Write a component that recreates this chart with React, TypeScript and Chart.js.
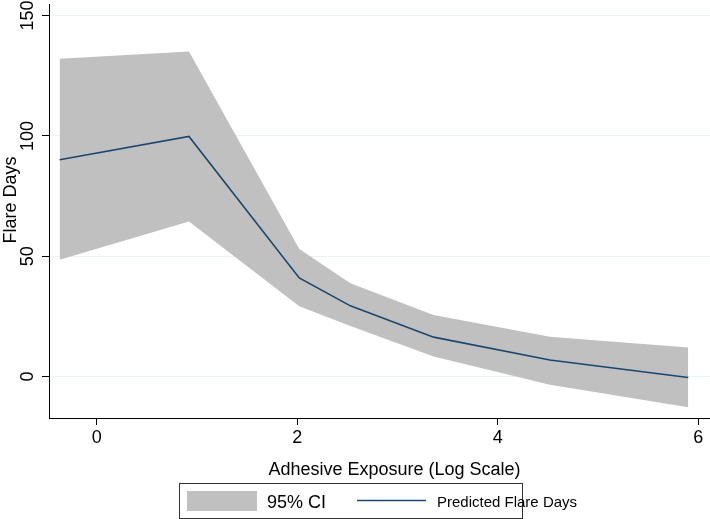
import React, { useEffect, useRef } from "react";
import { Chart, registerables } from "chart.js";

Chart.register(...registerables);

const xValues = [-0.37, 0.92, 2.02, 2.53, 3.36, 4.52, 5.9];
const predicted = [90.1, 99.8, 41.0, 29.4, 16.4, 6.9, -0.4];
const ciUpper = [132.1, 135.1, 53.0, 38.8, 25.6, 16.6, 12.1];
const ciLower = [48.5, 64.4, 29.2, 21.0, 8.3, -3.4, -12.7];

const xTicks = [0, 2, 4, 6];
const yTicks = [0, 50, 100, 150];

const xTitle = "Adhesive Exposure (Log Scale)";
const yTitle = "Flare Days";
const legendCI = "95% CI";
const legendLine = "Predicted Flare Days";

const FONT = "'Liberation Sans', Arial, Helvetica, sans-serif";
const BAND = "#c0c0c0";
const NAVY = "#1a476f";
const GRID = "#eaf2f3";

const textPlugin = {
  id: "stataText",
  afterDraw(chart: any) {
    const ctx = chart.ctx as CanvasRenderingContext2D;
    const xs = chart.scales.x;
    const ys = chart.scales.y;
    ctx.save();
    ctx.fillStyle = "#000";
    // y tick labels, rotated
    ctx.font = `18px ${FONT}`;
    yTicks.forEach((v) => {
      const py = ys.getPixelForValue(v);
      ctx.save();
      ctx.translate(33, py);
      ctx.rotate(-Math.PI / 2);
      ctx.textAlign = "center";
      ctx.textBaseline = "alphabetic";
      ctx.fillText(String(v), 0, 0);
      ctx.restore();
    });
    // x tick labels
    xTicks.forEach((v) => {
      const px = xs.getPixelForValue(v);
      ctx.textAlign = "center";
      ctx.textBaseline = "alphabetic";
      ctx.fillText(String(v), px, 443);
    });
    // axis titles
    ctx.font = `18px ${FONT}`;
    ctx.textAlign = "center";
    ctx.fillText(xTitle, 394.5, 475);
    ctx.save();
    ctx.translate(16, 200);
    ctx.rotate(-Math.PI / 2);
    ctx.fillText(yTitle, 0, 0);
    ctx.restore();

    // legend
    ctx.strokeStyle = "#333";
    ctx.lineWidth = 1;
    ctx.strokeRect(179.5, 483.5, 343, 35);
    ctx.fillStyle = BAND;
    ctx.fillRect(187, 491, 70, 20);
    ctx.fillStyle = "#000";
    ctx.textAlign = "left";
    ctx.font = `18px ${FONT}`;
    ctx.fillText(legendCI, 267, 508);
    ctx.strokeStyle = NAVY;
    ctx.lineWidth = 1.6;
    ctx.beginPath();
    ctx.moveTo(357, 500.5);
    ctx.lineTo(426, 500.5);
    ctx.stroke();
    ctx.font = `15px ${FONT}`;
    ctx.fillText(legendLine, 437, 506.5);
    ctx.restore();
  },
};

export default function App() {
  const ref = useRef<HTMLCanvasElement>(null);

  useEffect(() => {
    if (!ref.current) return;
    const pts = (ys: number[]) => xValues.map((x, i) => ({ x, y: ys[i] }));
    const chart = new Chart(ref.current, {
      type: "line",
      data: {
        datasets: [
          {
            label: "lower",
            data: pts(ciLower),
            borderWidth: 0,
            borderColor: "rgba(0,0,0,0)",
            pointRadius: 0,
            fill: false,
            order: 3,
          },
          {
            label: legendCI,
            data: pts(ciUpper),
            borderWidth: 0,
            borderColor: "rgba(0,0,0,0)",
            backgroundColor: BAND,
            pointRadius: 0,
            fill: "-1",
            order: 2,
          },
          {
            label: legendLine,
            data: pts(predicted),
            borderWidth: 1.6,
            borderColor: NAVY,
            pointRadius: 0,
            fill: false,
            order: 1,
          },
        ],
      },
      options: {
        animation: false,
        responsive: false,
        devicePixelRatio: 1,
        layout: { padding: { left: 0, right: 0, top: 4, bottom: 0 } },
        plugins: { legend: { display: false }, tooltip: { enabled: false }, filler: { propagate: false } },
        scales: {
          x: {
            type: "linear",
            min: -0.476,
            max: 6.117,
            afterBuildTicks: (s: any) => {
              s.ticks = xTicks.map((v) => ({ value: v }));
            },
            afterFit: (s: any) => {
              s.height = 101;
            },
            ticks: { display: false },
            grid: { drawOnChartArea: false, drawTicks: true, tickLength: 7, tickColor: "#000", tickWidth: 1 },
            border: { display: true, color: "#000", width: 1 },
          },
          y: {
            type: "linear",
            min: -17.2,
            max: 154.8,
            afterBuildTicks: (s: any) => {
              s.ticks = yTicks.map((v) => ({ value: v }));
            },
            afterFit: (s: any) => {
              s.width = 49;
            },
            ticks: { display: false },
            grid: { color: GRID, lineWidth: 1, drawTicks: true, tickLength: 7, tickColor: "#000", tickWidth: 1 },
            border: { display: true, color: "#000", width: 1 },
          },
        },
      },
      plugins: [textPlugin],
    } as any);
    return () => chart.destroy();
  }, []);

  return (
    <div style={{ position: "fixed", left: 0, top: 0, width: 710, height: 519, background: "#fff" }}>
      <canvas ref={ref} width={710} height={519} style={{ display: "block" }} />
    </div>
  );
}
